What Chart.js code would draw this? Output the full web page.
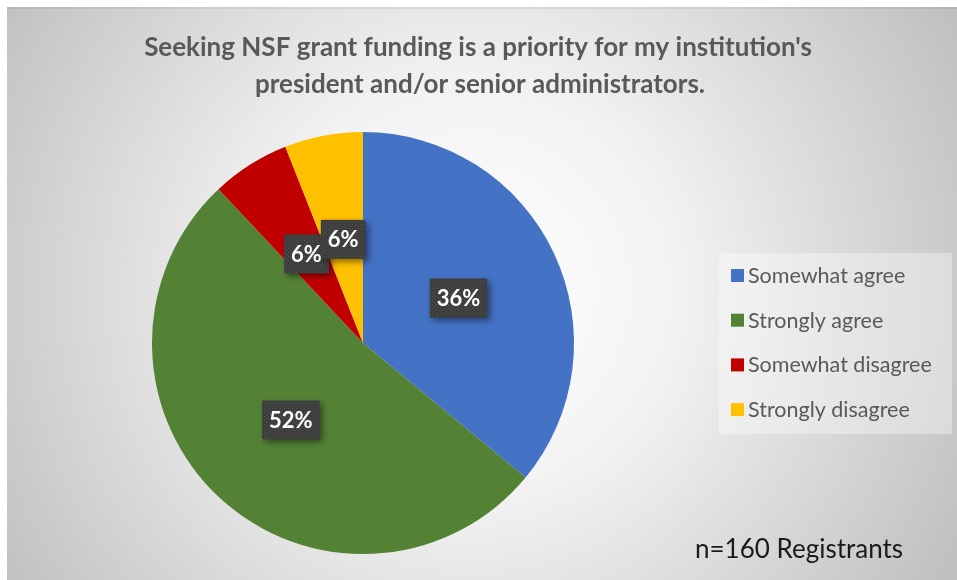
<!DOCTYPE html>
<html>
<head>
<meta charset="utf-8">
<script src="https://cdn.jsdelivr.net/npm/chart.js@4"></script>
<style>
    html, body { margin: 0; padding: 0; background: #fff; }
    #wrap { width: 957px; height: 580px; position: relative; }
</style>
</head>
<body>
<div id="wrap"><canvas id="pieChart" width="957" height="580"></canvas></div>
<script>
// Data
const categories = ['Somewhat agree', 'Strongly agree', 'Somewhat disagree', 'Strongly disagree'];
const shares = [36, 52, 6, 6];
const sliceColors = ['#4472C4', '#548235', '#C00000', '#FFC000'];
const titleLines = ['Seeking NSF grant funding is a priority for my institution\'s', 'president and/or senior administrators.'];
const footnote = 'n=160 Registrants';

const FONT = 'Lato, "Open Sans", sans-serif';

// Background: gray radial gradient, white in the middle
const backgroundPlugin = {
    id: 'bg',
    beforeDraw(chart) {
        const ctx = chart.ctx;
        const w = chart.width, h = chart.height;
        ctx.save();
        ctx.fillStyle = '#ffffff';
        ctx.fillRect(0, 0, w, h);
        const g = ctx.createRadialGradient(470, 290, 20, 470, 290, 560);
        g.addColorStop(0, '#ffffff');
        g.addColorStop(0.35, '#f2f2f2');
        g.addColorStop(1, '#bfbfbf');
        ctx.fillStyle = g;
        ctx.fillRect(7, 7, w - 7, h - 7);
        ctx.fillStyle = 'rgba(0,0,0,0.06)';
        ctx.fillRect(7, 7, w - 7, 2);
        ctx.restore();
    }
};

// Dotted dark fill for the data labels
function makeLabelPattern(ctx) {
    const c = document.createElement('canvas');
    c.width = 4; c.height = 4;
    const p = c.getContext('2d');
    p.fillStyle = '#3d3d3d';
    p.fillRect(0, 0, 4, 4);
    p.fillStyle = '#555555';
    p.fillRect(0, 0, 1, 1);
    p.fillRect(2, 2, 1, 1);
    return ctx.createPattern(c, 'repeat');
}

const labelsPlugin = {
    id: 'sliceLabels',
    afterDatasetsDraw(chart) {
        const ctx = chart.ctx;
        const meta = chart.getDatasetMeta(0);
        const pattern = makeLabelPattern(ctx);
        ctx.save();
        ctx.font = 'bold 22px ' + FONT;
        ctx.textAlign = 'center';
        ctx.textBaseline = 'middle';
        meta.data.forEach((arc, i) => {
            const pos = arc.tooltipPosition();
            const text = shares[i] + '%';
            const tw = ctx.measureText(text).width;
            const bw = tw + 14, bh = 39;
            ctx.save();
            ctx.shadowColor = 'rgba(0,0,0,0.45)';
            ctx.shadowBlur = 6;
            ctx.shadowOffsetX = 3;
            ctx.shadowOffsetY = 3;
            ctx.fillStyle = pattern;
            ctx.fillRect(pos.x - bw / 2, pos.y - bh / 2, bw, bh);
            ctx.restore();
            ctx.fillStyle = '#ffffff';
            ctx.fillText(text, pos.x, pos.y + 1);
        });
        ctx.restore();
    }
};

// Title, legend and note
const textPlugin = {
    id: 'texts',
    afterDraw(chart) {
        const ctx = chart.ctx;
        ctx.save();
        ctx.fillStyle = '#595959';
        ctx.font = 'bold 26px ' + FONT;
        ctx.textAlign = 'center';
        ctx.textBaseline = 'middle';
        ctx.fillText(titleLines[0], 478, 48);
        ctx.fillText(titleLines[1], 480, 85);

        // legend box
        ctx.fillStyle = 'rgba(255,255,255,0.35)';
        ctx.fillRect(719, 253, 233, 181);
        ctx.font = '21.5px ' + FONT;
        ctx.textAlign = 'left';
        categories.forEach((c, i) => {
            const y = 276 + i * 44.7;
            ctx.fillStyle = sliceColors[i];
            ctx.fillRect(731, y - 7, 13, 13);
            ctx.fillStyle = '#595959';
            ctx.fillText(c, 748, y);
        });

        ctx.fillStyle = '#1a1a1a';
        ctx.font = '26px ' + FONT;
        ctx.textAlign = 'left';
        ctx.fillText(footnote, 695, 550);
        ctx.restore();
    }
};

const ctx = document.getElementById('pieChart').getContext('2d');
new Chart(ctx, {
    type: 'pie',
    data: {
        labels: categories,
        datasets: [{
            data: shares,
            backgroundColor: sliceColors,
            borderWidth: 0
        }]
    },
    options: {
        responsive: false,
        animation: false,
        layout: {
            padding: { left: 152, right: 383, top: 132, bottom: 26 }
        },
        plugins: {
            legend: { display: false },
            tooltip: { enabled: false },
            title: { display: false }
        }
    },
    plugins: [backgroundPlugin, labelsPlugin, textPlugin]
});
</script>
</body>
</html>
